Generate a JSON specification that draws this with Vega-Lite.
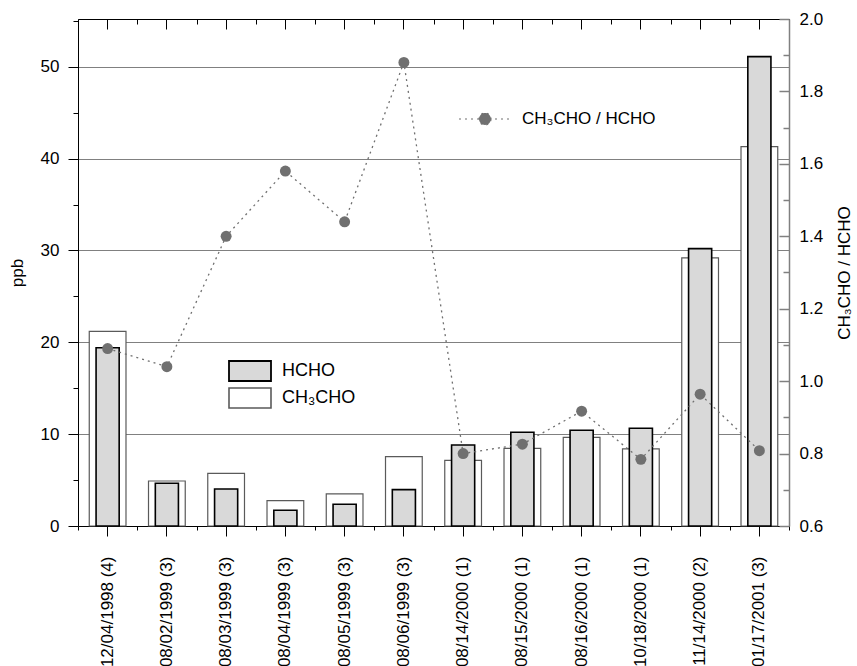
{
  "$schema": "https://vega.github.io/schema/vega-lite/v6.json",
  "width": 711,
  "height": 507,
  "autosize": "none",
  "padding": {"left": 78, "top": 19, "right": 68, "bottom": 140},
  "config": {
    "font": "Liberation Sans",
    "view": {"stroke": null},
    "axis": {"labelFont": "Liberation Sans", "titleFont": "Liberation Sans", "labelFontSize": 17, "titleFontSize": 17, "titleFontWeight": "normal", "labelColor": "#000000", "titleColor": "#000000"},
    "legend": {"labelFont": "Liberation Sans", "labelFontSize": 18, "labelColor": "#000000"}
  },
  "data": {
    "values": [
      {"date": "12/04/1998 (4)", "HCHO": 19.4, "CH3CHO": 21.2, "ratio": 1.09},
      {"date": "08/02/1999 (3)", "HCHO": 4.65, "CH3CHO": 4.9, "ratio": 1.04},
      {"date": "08/03/1999 (3)", "HCHO": 4.03, "CH3CHO": 5.74, "ratio": 1.4},
      {"date": "08/04/1999 (3)", "HCHO": 1.71, "CH3CHO": 2.76, "ratio": 1.58},
      {"date": "08/05/1999 (3)", "HCHO": 2.36, "CH3CHO": 3.49, "ratio": 1.44},
      {"date": "08/06/1999 (3)", "HCHO": 3.96, "CH3CHO": 7.55, "ratio": 1.88},
      {"date": "08/14/2000 (1)", "HCHO": 8.82, "CH3CHO": 7.15, "ratio": 0.80},
      {"date": "08/15/2000 (1)", "HCHO": 10.2, "CH3CHO": 8.46, "ratio": 0.826},
      {"date": "08/16/2000 (1)", "HCHO": 10.42, "CH3CHO": 9.66, "ratio": 0.917},
      {"date": "10/18/2000 (1)", "HCHO": 10.64, "CH3CHO": 8.39, "ratio": 0.784},
      {"date": "11/14/2000 (2)", "HCHO": 30.2, "CH3CHO": 29.2, "ratio": 0.964},
      {"date": "01/17/2001 (3)", "HCHO": 51.1, "CH3CHO": 41.3, "ratio": 0.808}
    ]
  },
  "layer": [
    {
      "mark": {"type": "bar", "width": {"band": 0.62}, "fill": "#ffffff", "strokeWidth": 1.2},
      "encoding": {
        "x": {"field": "date", "type": "nominal", "sort": null, "scale": {"paddingInner": 0, "paddingOuter": 0},
          "axis": {"orient": "bottom", "title": null, "labelAngle": -90, "labelAlign": "right", "labelBaseline": "middle", "labelPadding": 20, "tickSize": 10, "tickColor": "#000000", "domainColor": "#000000", "tickBand": "center"}},
        "y": {"field": "CH3CHO", "type": "quantitative", "scale": {"domain": [0, 55.2], "nice": false, "zero": true},
          "axis": {"orient": "left", "title": "ppb", "titlePadding": 14, "values": [0, 5, 10, 15, 20, 25, 30, 35, 40, 45, 50, 55],
            "labelExpr": "datum.value % 10 === 0 ? datum.label : ''",
            "tickSize": {"condition": {"test": "datum.value % 10 === 0", "value": 10}, "value": 5},
            "labelPadding": 9,
            "tickColor": "#000000", "domainColor": "#000000",
            "grid": true, "gridColor": "#808080", "gridWidth": 1,
            "gridOpacity": {"condition": {"test": "datum.value % 10 === 0 && datum.value > 0", "value": 1}, "value": 0}}},
        "stroke": {"datum": "CH₃CHO", "scale": {"domain": ["CH₃CHO"], "range": ["#5a5a5a"]},
          "legend": {"title": null, "orient": "none", "legendX": 161, "legendY": 368,
            "symbolType": "M-2.1,-1L2.1,-1L2.1,1L-2.1,1Z", "symbolSize": 400, "symbolStrokeWidth": 1.6,
            "symbolFillColor": "#ffffff", "symbolStrokeColor": "#4d4d4d", "labelOffset": 21}}
      }
    },
    {
      "mark": {"type": "bar", "width": {"band": 0.39}, "stroke": "#000000", "strokeWidth": 1.6},
      "encoding": {
        "x": {"field": "date", "type": "nominal", "sort": null,
          "axis": {"orient": "bottom", "title": null, "labels": false, "domain": false, "tickSize": 4, "tickColor": "#000000", "tickBand": "extent"}},
        "y": {"field": "HCHO", "type": "quantitative", "scale": {"domain": [0, 55.2], "nice": false}, "axis": null},
        "fill": {"datum": "HCHO", "scale": {"domain": ["HCHO"], "range": ["#d9d9d9"]},
          "legend": {"title": null, "orient": "none", "legendX": 161, "legendY": 341,
            "symbolType": "M-2.1,-1L2.1,-1L2.1,1L-2.1,1Z", "symbolSize": 400, "symbolStrokeWidth": 1.8,
            "symbolStrokeColor": "#000000", "labelOffset": 21}}
      }
    },
    {
      "mark": {"type": "line", "stroke": "#707070", "strokeWidth": 1.3, "strokeDash": [2, 4]},
      "encoding": {
        "x": {"field": "date", "type": "nominal", "sort": null,
          "axis": {"orient": "top", "title": null, "labels": false, "domainColor": "#000000", "tickSize": -10, "tickColor": "#000000", "tickBand": "center"}},
        "y": {"field": "ratio", "type": "quantitative", "scale": {"domain": [0.6, 2.0], "nice": false, "zero": false},
          "axis": {"orient": "right", "title": "CH₃CHO / HCHO", "titleAngle": -90, "titlePadding": 31, "values": [0.6, 0.7, 0.8, 0.9, 1.0, 1.1, 1.2, 1.3, 1.4, 1.5, 1.6, 1.7, 1.8, 1.9, 2.0],
            "format": ".1f",
            "labelExpr": "abs(round(datum.value * 10) % 2) < 0.5 ? datum.label : ''",
            "tickSize": {"condition": {"test": "abs(round(datum.value * 10) % 2) < 0.5", "value": -10}, "value": -6},
            "labelPadding": 20,
            "tickColor": "#808080", "domainColor": "#808080", "domainWidth": 1.5, "tickWidth": 1.5, "grid": false}}
      }
    },
    {
      "mark": {"type": "circle", "size": 120, "opacity": 1},
      "encoding": {
        "x": {"field": "date", "type": "nominal", "sort": null,
          "axis": {"orient": "top", "title": null, "labels": false, "domain": false, "tickSize": -5, "tickColor": "#000000", "tickBand": "extent"}},
        "y": {"field": "ratio", "type": "quantitative", "scale": {"domain": [0.6, 2.0], "nice": false, "zero": false}, "axis": null},
        "color": {"datum": "CH₃CHO / HCHO", "scale": {"range": ["#707070"]},
          "legend": {"title": null, "orient": "none", "legendX": 380, "legendY": 73,
            "symbolType": "M-1,0L1,0M0.23,0C0.23,0.127,0.127,0.23,0,0.23C-0.127,0.23,-0.23,0.127,-0.23,0C-0.23,-0.127,-0.127,-0.23,0,-0.23C0.127,-0.23,0.23,-0.127,0.23,0Z",
            "symbolSize": 2704, "symbolFillColor": "#707070", "symbolStrokeColor": "#707070", "symbolStrokeWidth": 1.2, "symbolDash": [2, 4], "labelOffset": 10, "labelFontSize": 17}}
      }
    }
  ],
  "resolve": {"scale": {"y": "independent"}, "axis": {"x": "independent", "y": "independent"}}
}
